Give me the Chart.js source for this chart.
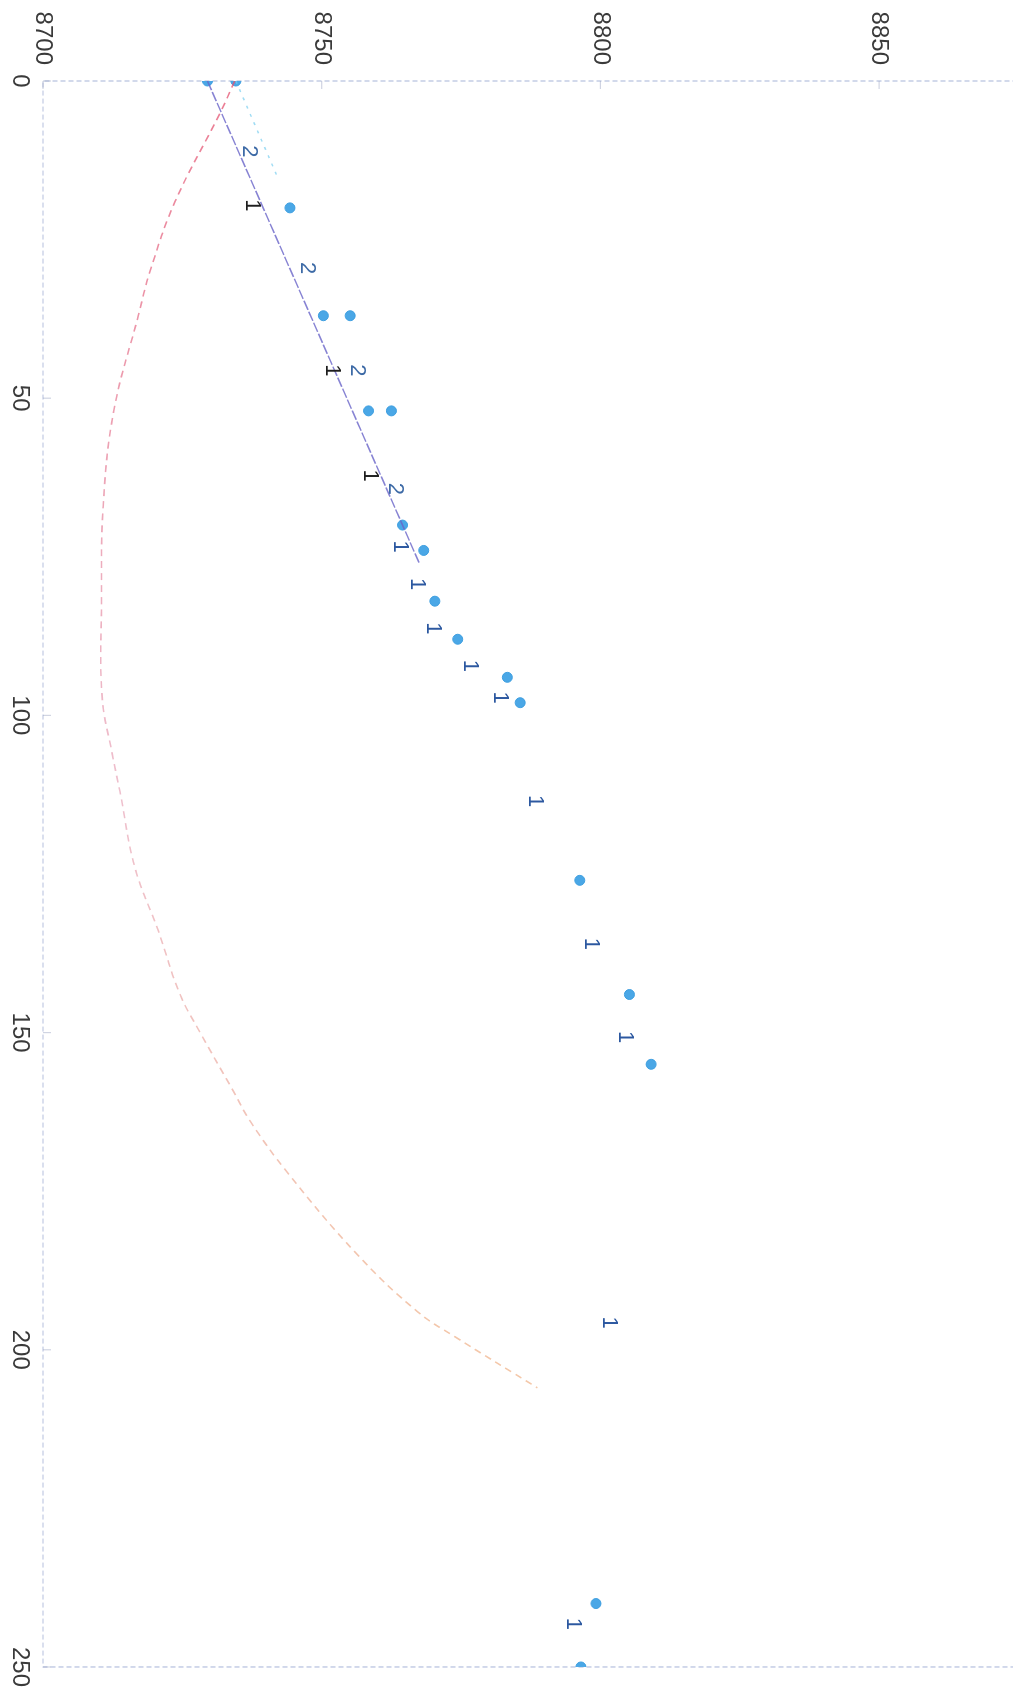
<!DOCTYPE html>
<html>
<head>
<meta charset="utf-8">
<script src="https://cdn.jsdelivr.net/npm/chart.js@4"></script>
<style>
  html, body { margin: 0; padding: 0; background: #fff; overflow: hidden; }
  /* the page is printed sideways, so the chart is drawn upright and turned 90deg.
     it is a bit taller than the page so the top of the plot runs off the edge */
  #wrap {
    position: absolute; left: 0; top: 0;
    width: 1696px; height: 1060px;
    transform-origin: 0 0;
    transform: translateX(1060px) rotate(90deg);
  }
</style>
</head>
<body>
<div id="wrap"><canvas id="the_chart" width="1696" height="1060"></canvas></div>
<script>
// measured points
let dotX = [0, 0, 20, 37, 37, 52, 52, 70, 74, 82, 88, 94, 98, 126, 144, 155, 240, 250];
let dotVal = [8729.5, 8734.6, 8744.3, 8750.3, 8755.1, 8758.4, 8762.5, 8764.5, 8768.3, 8770.3, 8774.4, 8783.3, 8785.6, 8796.3, 8805.2, 8809.1, 8799.2, 8796.5];

// curved dashed line (pink)
let curveX = [0, 5, 19, 30, 37, 52, 67, 82, 97, 106, 112, 124, 134, 144, 150, 159, 164, 172, 185, 194, 198, 206];
let curveVal = [8734.4, 8731.8, 8723.7, 8719.2, 8717.1, 8712.7, 8710.8, 8710.5, 8710.6, 8712.4, 8713.8, 8716.5, 8720.7, 8724.6, 8728.2, 8734, 8737.2, 8743.8, 8756.4, 8767.2, 8774, 8788.7];

// straight line from the first point
let lineX = [0, 76];
let lineVal = [8729.5, 8767.5];

// short dotted line from the second point
let shortX = [0, 15];
let shortVal = [8734.6, 8742];

// "2" marks
let twoX = [11.1, 29.5, 45.6, 64.3];
let twoVal = [8736.9, 8747.4, 8756.3, 8763.1];

// "1" marks, dark ones
let oneDarkX = [19.6, 45.6, 62.2];
let oneDarkVal = [8737.5, 8751.8, 8758.6];

// "1" marks, blue ones
let oneBlueX = [73.4, 79.3, 86.3, 92.2, 97.2, 113.5, 136, 150.7, 195.7, 243.2];
let oneBlueVal = [8764.1, 8767.1, 8770.0, 8776.6, 8782.0, 8788.2, 8798.3, 8804.5, 8801.6, 8795.1];

// tick labels
let xTicks = [0, 50, 100, 150, 200, 250];
let yTicks = [8700, 8750, 8800, 8850];

function toPoints(xs, vals){
    return xs.map((x, i) => ({x: x, y: vals[i]}));
}

// box round the plot, small inside ticks and the number marks
const markPlugin = {
    id: 'marks',
    beforeDatasetsDraw(chart){
        const ctx = chart.ctx;
        const a = chart.chartArea;
        const xs = chart.scales.x;
        const ys = chart.scales.y;
        ctx.save();
        ctx.strokeStyle = 'rgba(120,140,195,0.55)';
        ctx.lineWidth = 1.2;
        ctx.setLineDash([5, 3]);
        ctx.strokeRect(a.left, a.top, a.right - a.left, a.bottom - a.top);
        ctx.setLineDash([]);
        ctx.strokeStyle = 'rgba(150,160,190,0.45)';
        xTicks.forEach(v => {
            const px = xs.getPixelForValue(v);
            ctx.beginPath(); ctx.moveTo(px, a.bottom); ctx.lineTo(px, a.bottom - 8); ctx.stroke();
        });
        yTicks.forEach(v => {
            const py = ys.getPixelForValue(v);
            ctx.beginPath(); ctx.moveTo(a.left, py); ctx.lineTo(a.left + 8, py); ctx.stroke();
        });
        ctx.restore();
    },
    afterDatasetsDraw(chart){
        const ctx = chart.ctx;
        const xs = chart.scales.x;
        const ys = chart.scales.y;
        ctx.save();
        ctx.font = '22px "Liberation Sans", Arial, sans-serif';
        ctx.textAlign = 'center';
        ctx.textBaseline = 'middle';
        function put(txt, xArr, vArr, col){
            ctx.fillStyle = col;
            xArr.forEach((x, i) => {
                ctx.fillText(txt, xs.getPixelForValue(x), ys.getPixelForValue(vArr[i]));
            });
        }
        put('2', twoX, twoVal, '#3d6aa6');
        put('1', oneDarkX, oneDarkVal, '#1e1e1e');
        put('1', oneBlueX, oneBlueVal, '#2c58a0');
        ctx.restore();
    }
};

function curveColor(context){
    const a = context.chart.chartArea;
    if(!a){ return 'rgba(230,110,140,0.6)'; }
    const g = context.chart.ctx.createLinearGradient(a.left, 0, a.right, 0);
    g.addColorStop(0, 'rgba(228,80,110,0.75)');
    g.addColorStop(0.45, 'rgba(225,140,165,0.55)');
    g.addColorStop(0.75, 'rgba(235,160,120,0.6)');
    g.addColorStop(1, 'rgba(240,170,90,0.6)');
    return g;
}

const tickFont = {family: '"Liberation Sans", Arial, sans-serif', size: 24};

new Chart(document.getElementById('the_chart'), {
    type: 'scatter',
    data: {
        datasets: [
            {
                label: 'curve',
                data: toPoints(curveX, curveVal),
                showLine: true,
                borderColor: curveColor,
                borderWidth: 1.6,
                borderDash: [7, 5],
                pointRadius: 0,
                tension: 0.4
            },
            {
                label: 'line',
                data: toPoints(lineX, lineVal),
                showLine: true,
                borderColor: 'rgba(105,100,200,0.8)',
                borderWidth: 1.5,
                borderDash: [10, 2],
                pointRadius: 0
            },
            {
                label: 'short',
                data: toPoints(shortX, shortVal),
                showLine: true,
                borderColor: 'rgba(120,205,240,0.7)',
                borderWidth: 1.5,
                borderDash: [3, 6],
                pointRadius: 0
            },
            {
                label: 'points',
                data: toPoints(dotX, dotVal),
                backgroundColor: '#4aa7e6',
                borderColor: '#3f9fe0',
                pointRadius: 5,
                pointBorderWidth: 1
            }
        ]
    },
    options: {
        responsive: false,
        devicePixelRatio: 1,
        animation: false,
        layout: { padding: { left: 0, right: 28, top: 0, bottom: 0 } },
        plugins: {
            legend: { display: false },
            tooltip: { enabled: false }
        },
        scales: {
            x: {
                type: 'linear',
                min: 0,
                max: 250,
                afterBuildTicks: scale => { scale.ticks = xTicks.map(v => ({value: v})); },
                afterFit: scale => { scale.height = 43; },
                grid: { display: false, drawTicks: false },
                border: { display: false },
                ticks: { font: tickFont, color: '#3a3a3a', padding: 9, maxRotation: 0, minRotation: 0,
                         callback: v => String(v) }
            },
            y: {
                type: 'linear',
                min: 8700,
                max: 8877,
                afterBuildTicks: scale => { scale.ticks = yTicks.map(v => ({value: v})); },
                afterFit: scale => { scale.width = 81; },
                grid: { display: false, drawTicks: false },
                border: { display: false },
                ticks: { font: tickFont, color: '#3a3a3a', padding: 16, callback: v => String(v) }
            }
        }
    },
    plugins: [markPlugin]
});
</script>
</body>
</html>
